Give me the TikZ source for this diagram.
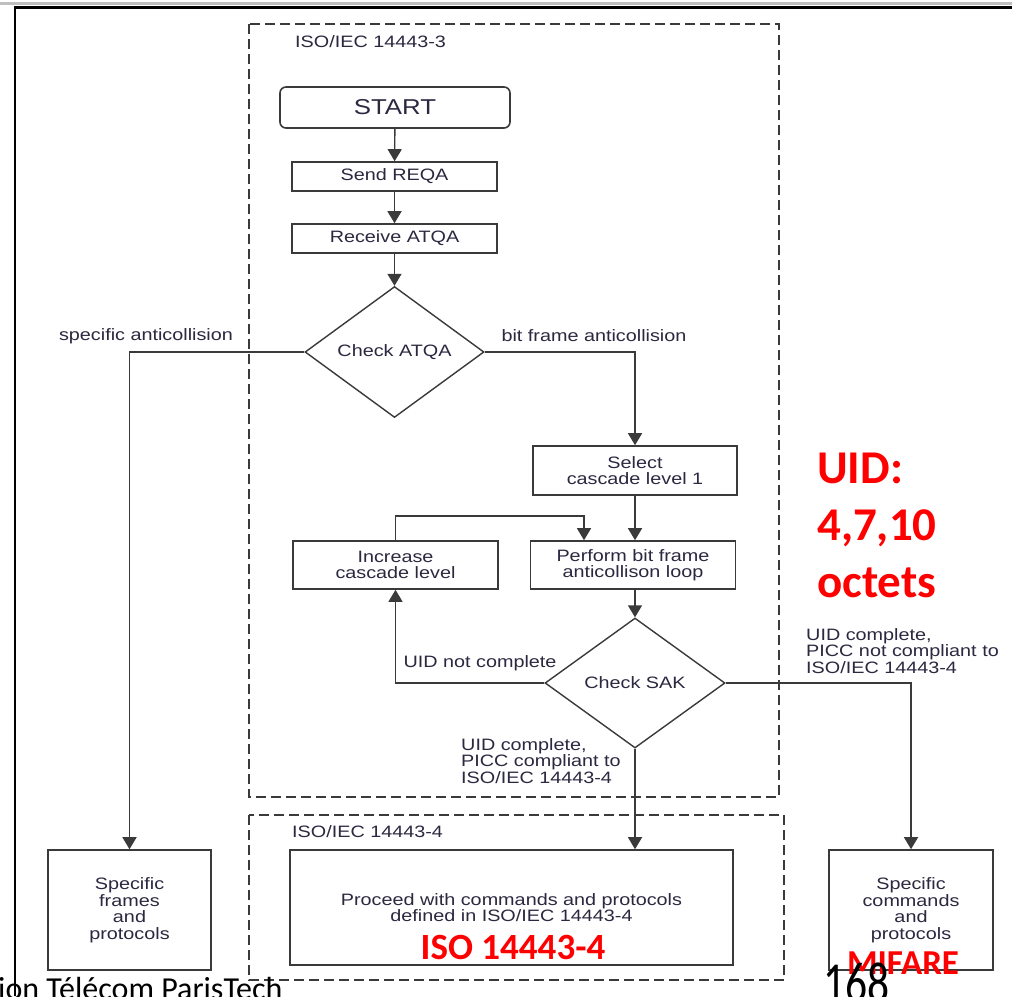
\documentclass[tikz,border=0pt]{standalone}
\usepackage{fontspec}
\setmainfont{Liberation Sans}[FakeStretch=1.2]
\newfontfamily\redfont{Carlito}[BoldFont={Carlito Bold}]
\usetikzlibrary{arrows.meta,shapes.geometric}
\definecolor{ln}{HTML}{3A3A3A}
\definecolor{tx}{HTML}{2B2840}
\definecolor{rd}{HTML}{FF0000}
\tikzset{
  box/.style={draw=ln, line width=1.6pt, fill=white, align=center, text=tx,
    font=\fontsize{16.5}{16.5}\selectfont, inner sep=0pt},
  dmd/.style={diamond, draw=ln, line width=1.4pt, fill=white, text=tx,
    font=\fontsize{16.5}{16.5}\selectfont, inner sep=0pt},
  lbl/.style={text=tx, font=\fontsize{16.5}{16.5}\selectfont, align=left, inner sep=0pt},
  arr/.style={draw=ln, line width=1.4pt, -{Triangle[length=12pt,width=14pt]}},
  dbox/.style={draw=ln, line width=1.8pt, dash pattern=on 10pt off 5pt},
  redtxt/.style={text=rd, font=\redfont\bfseries, inner sep=0pt}
}
\begin{document}
\begin{tikzpicture}[x=1pt,y=-1pt]
\useasboundingbox (0,0) rectangle (1012,996);
\clip (0,0) rectangle (1012,996);
\fill[white] (0,0) rectangle (1012,996);
% outer frame
\draw[black!25, line width=3pt] (0,3) -- (1012,3);
\draw[black, line width=2.4pt] (15,996) -- (15,7.5) -- (1012,7.5);
% dashed regions
\draw[dbox] (249,24) rectangle (779,797);
\draw[dbox] (249,815) rectangle (784,980);
\node[lbl, anchor=west] (l3) at (295,42) {ISO/IEC 14443-3};
\node[lbl, anchor=west] (l4) at (292,832) {ISO/IEC 14443-4};
% nodes
\node[box, rounded corners=6pt, minimum width=230pt, minimum height=41pt,
      font=\fontsize{21.5}{21.5}\selectfont] (start) at (395,107.5) {START};
\node[box, minimum width=205pt, minimum height=29pt] (reqa) at (394.5,176.5) {Send REQA};
\node[box, minimum width=205pt, minimum height=29pt] (atqa) at (394.5,238.5) {Receive ATQA};
\node[dmd, minimum width=179pt, minimum height=131pt] (chk) at (394.5,352) {Check ATQA};
\node[box, minimum width=204pt, minimum height=49pt] (sel) at (635,470.5) {Select\\cascade level 1};
\node[box, minimum width=205pt, minimum height=48pt] (perf) at (633,565) {Perform bit frame\\anticollison loop};
\node[box, minimum width=205pt, minimum height=48pt] (inc) at (395.5,565) {Increase\\cascade level};
\node[dmd, minimum width=180pt, minimum height=130pt] (sak) at (635,683) {Check SAK};
\node[box, minimum width=163pt, minimum height=120pt] (frames) at (129.5,910) {Specific\\frames\\and\\protocols};
\node[box, minimum width=443pt, minimum height=115pt] (proc) at (511.5,907.5) {Proceed with commands and protocols\\defined in ISO/IEC 14443-4};
\node[box, minimum width=164pt, minimum height=120pt] (cmds) at (911,910) {Specific\\commands\\and\\protocols};
% connectors
\draw[arr] (start) -- (reqa);
\draw[arr] (reqa) -- (atqa);
\draw[arr] (atqa) -- (chk);
\draw[arr] (chk.west) -| (frames.north);
\draw[arr] (chk.east) -| (sel.north);
\draw[arr] (sel.south) -- (sel.south |- perf.north);
\coordinate (loop) at (584,516);
\draw[arr] (inc.north) |- (loop) -- (loop |- perf.north);
\draw[arr] (perf.south -| sak.north) -- (sak.north);
\draw[arr] (sak.west) -| (inc.south);
\draw[arr] (sak.south) -- (sak.south |- proc.north);
\draw[arr] (sak.east) -| (cmds.north);
% connector labels
\node[lbl] (la) at (146,336) {specific anticollision};
\node[lbl] (lb) at (594,336) {bit frame anticollision};
\node[lbl] (lc) at (480,663) {UID not complete};
\node[lbl, anchor=west] (ld) at (461,761) {UID complete,\\PICC compliant to\\ISO/IEC 14443-4};
\node[lbl, anchor=west] (le) at (806,651) {UID complete,\\PICC not compliant to\\ISO/IEC 14443-4};
% red annotations
\node[redtxt, anchor=north west, align=left, font=\redfont\bfseries\fontsize{47}{57}\selectfont] (uid) at (817,453) {UID:\\4,7,10\\octets};
\node[redtxt, font=\redfont\bfseries\fontsize{37}{37}\selectfont] (iso) at (513,947) {ISO 14443-4};
\node[redtxt, font=\redfont\bfseries\fontsize{35}{35}\selectfont] (mif) at (903,963) {MIFARE};
% page footer fragments
\node[anchor=north west, inner sep=0pt, font=\redfont\fontsize{58}{58}\selectfont] (pg) at (823,963) {\scalebox{0.75}[1]{168}};
\node[anchor=north west, inner sep=0pt, font=\redfont\fontsize{32}{32}\selectfont] (ft) at (-2,977) {ion Télécom ParisTech};
\end{tikzpicture}
\end{document}
